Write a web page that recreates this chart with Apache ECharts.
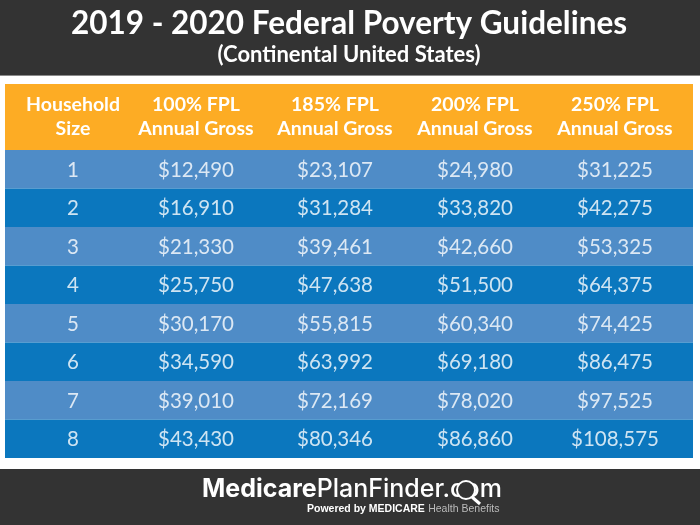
<!DOCTYPE html>
<html>
<head>
    <meta charset="utf-8">
    <title>2019 - 2020 Federal Poverty Guidelines</title>
    <style>
        html, body { margin: 0; padding: 0; background: #fff; }
    </style>
</head>
<body>
<div id="main" style="width: 700px;height: 525px;"></div>
<script type="text/javascript" src="https://cdn.jsdelivr.net/npm/echarts@6/dist/echarts.min.js"></script>
<script type="text/javascript">
    // table data
    var columnHeaders = ['Household\nSize', '100% FPL\nAnnual Gross', '185% FPL\nAnnual Gross', '200% FPL\nAnnual Gross', '250% FPL\nAnnual Gross'];
    var householdSizes = ['1', '2', '3', '4', '5', '6', '7', '8'];
    var fpl100 = [12490, 16910, 21330, 25750, 30170, 34590, 39010, 43430];
    var fpl185 = [23107, 31284, 39461, 47638, 55815, 63992, 72169, 80346];
    var fpl200 = [24980, 33820, 42660, 51500, 60340, 69180, 78020, 86860];
    var fpl250 = [31225, 42275, 53325, 64375, 74425, 86475, 97525, 108575];

    // layout
    var tableLeft = 5, tableRight = 693;
    var columnCentres = [73, 196, 335, 475, 615];
    var fontName = 'Lato';

    var myChart = echarts.init(document.getElementById('main'));

    function money(v) {
        return '$' + v.toLocaleString('en-US');
    }

    // one invisible point per cell, the label is the cell text
    var cellData = [];
    householdSizes.forEach(function (size, i) {
        cellData.push({ value: [columnCentres[0], size], text: size });
        [fpl100, fpl185, fpl200, fpl250].forEach(function (col, c) {
            cellData.push({ value: [columnCentres[c + 1], size], text: money(col[i]) });
        });
    });

    var headerTexts = columnHeaders.map(function (h, i) {
        return {
            type: 'text', z: 5, x: columnCentres[i], y: 117,
            style: {
                text: h, fill: '#fff', align: 'center', verticalAlign: 'middle',
                font: '700 19.5px ' + fontName, lineHeight: 24
            }
        };
    });

    myChart.setOption({
        animation: false,
        backgroundColor: '#fff',
        grid: { left: tableLeft, right: 700 - tableRight, top: 150, bottom: 67 },
        xAxis: { type: 'value', min: tableLeft, max: tableRight, show: false },
        yAxis: { type: 'category', inverse: true, data: householdSizes, show: false },
        series: [{
            type: 'bar',
            barWidth: '100%',
            silent: true,
            data: householdSizes.map(function (s, i) {
                return {
                    value: tableRight,
                    itemStyle: { color: i % 2 === 0 ? '#4F8CC7' : '#0B77BE' }
                };
            })
        }, {
            type: 'scatter',
            symbolSize: 0,
            silent: true,
            z: 4,
            data: cellData,
            label: {
                show: true, position: 'inside', color: '#fff', offset: [0, 1],
                fontFamily: fontName, fontSize: 20.5,
                formatter: function (p) { return p.data.text; }
            }
        }],
        graphic: [
            { type: 'rect', z: 1, shape: { x: 0, y: 0, width: 700, height: 75 }, style: { fill: '#333333' } },
            { type: 'rect', z: 1, shape: { x: 0, y: 75, width: 700, height: 1 }, style: { fill: '#8a8a8a' } },
            { type: 'rect', z: 1, shape: { x: tableLeft, y: 84, width: tableRight - tableLeft, height: 66 }, style: { fill: '#FDAC24' } },
            { type: 'rect', z: 1, shape: { x: 0, y: 469, width: 700, height: 56 }, style: { fill: '#333333' } },
            {
                type: 'text', z: 5, x: 349, y: 24,
                style: { text: '2019 - 2020 Federal Poverty Guidelines', fill: '#fff', align: 'center', verticalAlign: 'middle', font: '700 31.5px ' + fontName }
            },
            {
                type: 'text', z: 5, x: 349, y: 55,
                style: { text: '(Continental United States)', fill: '#fff', align: 'center', verticalAlign: 'middle', font: '700 22px ' + fontName }
            }
        ].concat(headerTexts).concat([
            {
                type: 'text', z: 5, x: 202, y: 489,
                style: {
                    text: '{a|Medicare}{b|PlanFinder.com}', align: 'left', verticalAlign: 'middle',
                    rich: {
                        a: { fill: '#fff', font: '700 25px Inter' },
                        b: { fill: '#fff', font: '500 25px Inter' }
                    }
                }
            },
            { type: 'circle', z: 6, shape: { cx: 466, cy: 490, r: 9 }, style: { fill: '#333333', stroke: '#fff', lineWidth: 2 } },
            { type: 'line', z: 6, shape: { x1: 472, y1: 497, x2: 480, y2: 504 }, style: { stroke: '#fff', lineWidth: 3 } },
            {
                type: 'text', z: 5, x: 307, y: 509,
                style: {
                    text: '{a|Powered by MEDICARE} {b|Health Benefits}', align: 'left', verticalAlign: 'middle',
                    rich: {
                        a: { fill: '#fff', font: '700 10.5px "Liberation Sans"' },
                        b: { fill: '#bbbbbb', font: '400 10.5px "Liberation Sans"' }
                    }
                }
            }
        ])
    });
</script>
</body>
</html>
